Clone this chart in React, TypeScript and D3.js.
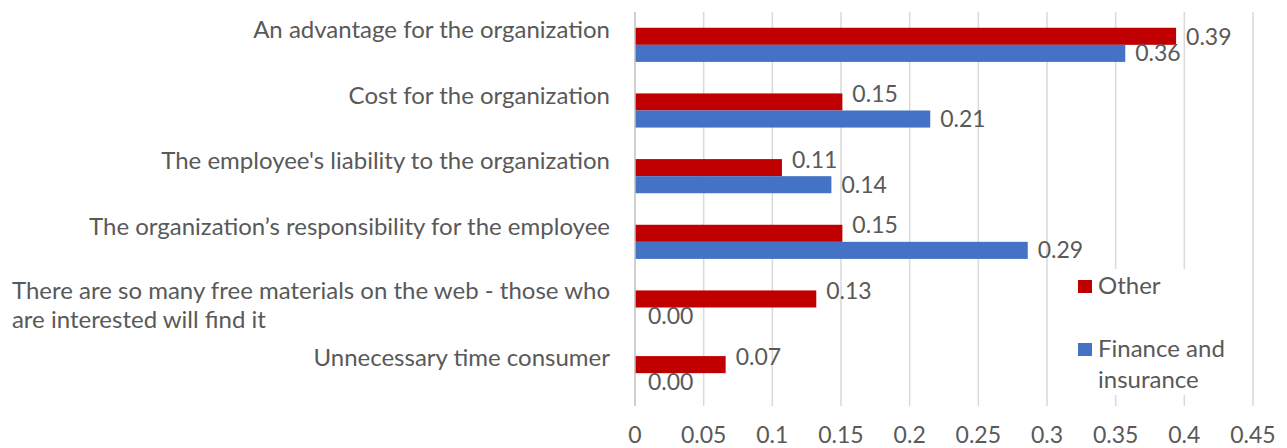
import { useEffect, useRef } from "react";
import * as d3 from "d3";

// categories top to bottom, each label split into its lines
const categories = [
  ["An advantage for the organization"],
  ["Cost for the organization"],
  ["The employee's liability to the organization"],
  ["The organization\u2019s responsibility for the employee"],
  ["There are so many free materials on the web - those who", "are interested will find it"],
  ["Unnecessary time consumer"],
];
const otherValues = [0.394, 0.151, 0.107, 0.151, 0.132, 0.066];
const financeValues = [0.357, 0.215, 0.143, 0.286, 0, 0];
const xTicks = [0, 0.05, 0.1, 0.15, 0.2, 0.25, 0.3, 0.35, 0.4, 0.45];
const seriesNames = [["Other"], ["Finance and", "insurance"]];

const red = "#c00000";
const blue = "#4472c4";
const grey = "#595959";
const font = "Lato, 'Open Sans', sans-serif";

export default function App() {
  const ref = useRef<SVGSVGElement>(null);

  useEffect(() => {
    const svg = d3.select(ref.current);
    svg.selectAll("*").remove();

    const left = 635, right = 1253, top = 12, bottom = 406;
    const x = d3.scaleLinear().domain([0, 0.45]).range([left, right]);
    const y = d3.scaleBand<number>().domain(d3.range(categories.length)).range([top, bottom]).paddingInner(0.48).paddingOuter(0.24);
    const inner = d3.scaleBand<number>().domain([0, 1]).range([0, y.bandwidth()]);

    // ####### gridlines #######
    svg.append("g")
      .selectAll("line")
      .data(xTicks.slice(1))
      .join("line")
      .attr("x1", (d) => x(d)).attr("x2", (d) => x(d))
      .attr("y1", top).attr("y2", bottom)
      .attr("stroke", "#d9d9d9").attr("stroke-width", 1.5);

    // ####### bars + value labels #######
    const series = [otherValues, financeValues];
    const colors = [red, blue];
    series.forEach((vals, s) => {
      svg.append("g")
        .selectAll("rect")
        .data(vals)
        .join("rect")
        .attr("x", x(0))
        .attr("y", (_, i) => y(i)! + inner(s)!)
        .attr("width", (d) => x(d) - x(0))
        .attr("height", inner.bandwidth())
        .attr("fill", colors[s]);

      svg.append("g")
        .selectAll("text")
        .data(vals)
        .join("text")
        .attr("x", (d) => x(d) + (d === 0 ? 13 : 10))
        // red labels sit a bit above their bar (the top one lower), blue ones on their bar
        .attr("y", (_, i) => {
          const mid = y(i)! + inner(s)! + inner.bandwidth() / 2;
          if (s === 1) return mid + 8;
          return i === 0 ? mid + 9 : mid;
        })
        .attr("font-family", font).attr("font-size", 23).attr("fill", grey)
        .text((d) => d.toFixed(2));
    });

    // ####### y axis line #######
    svg.append("line")
      .attr("x1", x(0)).attr("x2", x(0)).attr("y1", top).attr("y2", bottom)
      .attr("stroke", "#bfbfbf").attr("stroke-width", 1.5);

    // ####### category labels #######
    const cat = svg.append("g");
    categories.forEach((lines, i) => {
      const c = y(i)! + y.bandwidth() / 2;
      const y0 = lines.length === 1 ? c - 7 : c - 9;
      const texts = lines.map((line, j) =>
        cat.append("text")
          .attr("x", 610).attr("y", y0 + j * 29)
          .attr("text-anchor", lines.length === 1 ? "end" : "start")
          .attr("font-family", font).attr("font-size", 24).attr("fill", grey)
          .text(line)
          .node()!
      );
      if (lines.length > 1) {
        // multi-line label: left aligned, widest line ends at the axis gap
        const w = d3.max(texts, (n) => n.getComputedTextLength()) || 0;
        texts.forEach((n) => n.setAttribute("x", String(610 - w)));
      }
    });

    // ####### x tick labels #######
    svg.append("g")
      .selectAll("text")
      .data(xTicks)
      .join("text")
      .attr("x", (d) => x(d)).attr("y", 443)
      .attr("text-anchor", "middle")
      .attr("font-family", font).attr("font-size", 23).attr("fill", grey)
      .text((d) => String(d));

    // ####### legend #######
    const lg = svg.append("g");
    lg.append("rect").attr("x", 1050).attr("y", 269).attr("width", 199).attr("height", 126).attr("fill", "white");
    [0, 1].forEach((s) => {
      const base = s === 0 ? 294 : 357;
      lg.append("rect").attr("x", 1078).attr("y", base - 14).attr("width", 14).attr("height", 13).attr("fill", colors[s]);
      seriesNames[s].forEach((line, j) => {
        lg.append("text")
          .attr("x", 1098).attr("y", base + j * 31)
          .attr("font-family", font).attr("font-size", 24).attr("fill", grey)
          .text(line);
      });
    });
  }, []);

  return (
    <div style={{ position: "absolute", left: 0, top: 0 }}>
      <svg ref={ref} width={1287} height={448} style={{ display: "block", background: "white" }} />
    </div>
  );
}
